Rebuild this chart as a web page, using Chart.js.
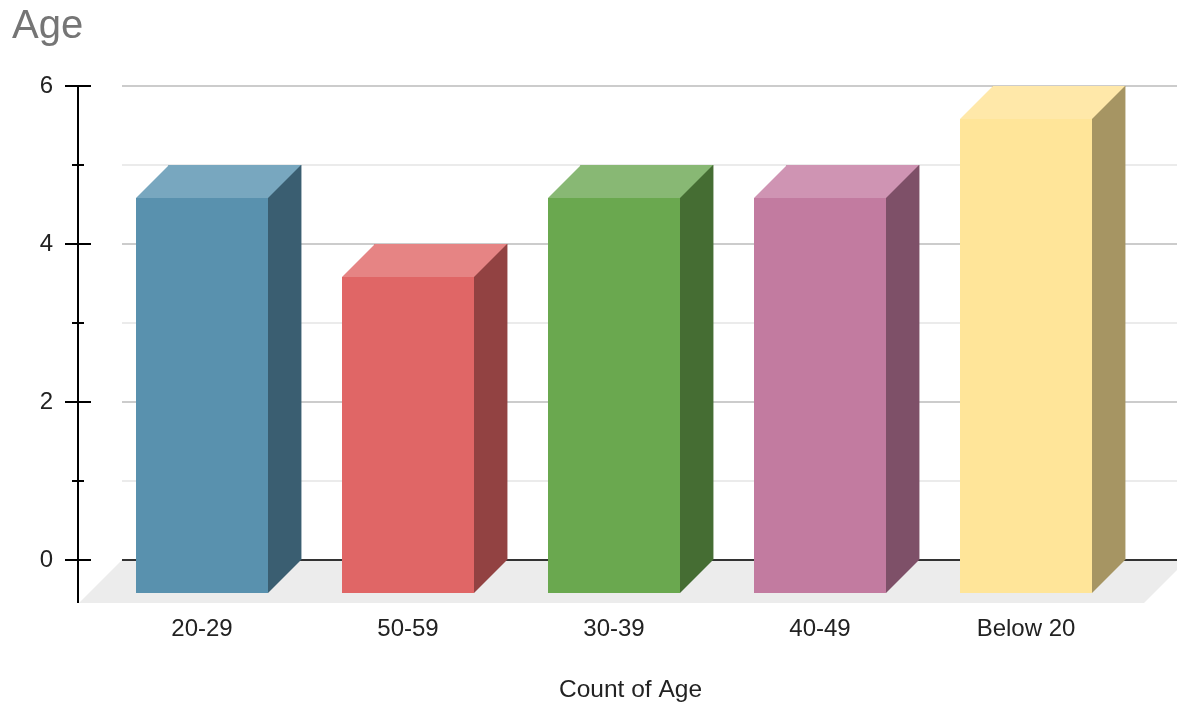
<!DOCTYPE html>
<html>
<head>
<meta charset="utf-8">
<title>Age</title>
<script src="https://cdn.jsdelivr.net/npm/chart.js@4.4.1/dist/chart.umd.min.js"></script>
<style>
  html, body { margin: 0; padding: 0; background: #ffffff; }
  canvas { display: block; }
</style>
</head>
<body>
<canvas id="ageChart" width="1177" height="707"></canvas>
<script>
// Age groups and how many people fall in each
const categories = ['20-29', '50-59', '30-39', '40-49', 'Below 20'];
const counts = [5, 4, 5, 5, 6];

// Value axis
const yMin = 0;
const yMax = 6;
const yTickValues = [0, 1, 2, 3, 4, 5, 6];
const yLabelValues = [0, 2, 4, 6];

// Box colours: front face, top face, right side
const frontColors = ['#5991ae', '#e06666', '#6aa84f', '#c27ba0', '#ffe599'];
const topColors   = ['#78a7bf', '#e68484', '#88b874', '#cf94b3', '#ffe8a9'];
const sideColors  = ['#3a5e71', '#924242', '#456d33', '#7e5068', '#a69563'];

const FONT = '"Liberation Sans", Arial, Helvetica, sans-serif';
const DEPTH = 33;        // box depth (pixels, drawn at 45 degrees)
const FLOOR_DEPTH = 43;  // depth of the grey floor plane

const boxes3d = {
  id: 'boxes3d',
  beforeDatasetsDraw(chart) {
    const { ctx, chartArea: a, scales: { y } } = chart;
    const W = chart.width;
    const gridLeft = Math.round(a.left - 10);
    const y0 = Math.round(y.getPixelForValue(0));
    ctx.save();
    // floor
    ctx.fillStyle = '#ececec';
    ctx.beginPath();
    ctx.moveTo(gridLeft, y0);
    ctx.lineTo(W + 10, y0);
    ctx.lineTo(W + 10 - FLOOR_DEPTH, y0 + FLOOR_DEPTH);
    ctx.lineTo(gridLeft - FLOOR_DEPTH, y0 + FLOOR_DEPTH);
    ctx.closePath();
    ctx.fill();
    // back-wall gridlines
    ctx.lineWidth = 2;
    yTickValues.forEach(v => {
      const py = Math.round(y.getPixelForValue(v));
      ctx.strokeStyle = v === 0 ? '#333333' : (v % 2 === 0 ? '#cccccc' : '#ebebeb');
      ctx.beginPath();
      ctx.moveTo(gridLeft, py);
      ctx.lineTo(W, py);
      ctx.stroke();
    });
    ctx.restore();
  },
  afterDatasetsDraw(chart) {
    const { ctx } = chart;
    const meta = chart.getDatasetMeta(0);
    ctx.save();
    meta.data.forEach((bar, i) => {
      const p = bar.getProps(['x', 'y', 'base', 'width'], true);
      const L = Math.round(p.x - p.width / 2);
      const R = Math.round(p.x + p.width / 2);
      const top = Math.round(p.y);
      const base = Math.round(p.base);
      const d = DEPTH;
      // right side
      ctx.fillStyle = sideColors[i];
      ctx.beginPath();
      ctx.moveTo(R, top);
      ctx.lineTo(R, base);
      ctx.lineTo(R - d, base + d);
      ctx.lineTo(R - d, top + d);
      ctx.closePath();
      ctx.fill();
      // top face
      ctx.fillStyle = topColors[i];
      ctx.beginPath();
      ctx.moveTo(L, top);
      ctx.lineTo(R, top);
      ctx.lineTo(R - d, top + d);
      ctx.lineTo(L - d, top + d);
      ctx.closePath();
      ctx.fill();
      // front face
      ctx.fillStyle = frontColors[i];
      ctx.fillRect(L - d, top + d, R - L, base - top);
    });
    ctx.restore();
  },
  afterDraw(chart) {
    const { ctx, chartArea: a, scales: { x, y } } = chart;
    const axisX = 78;
    const y0 = Math.round(y.getPixelForValue(0));
    ctx.save();
    // chart title
    ctx.fillStyle = '#757575';
    ctx.font = '40px ' + FONT;
    ctx.textAlign = 'left';
    ctx.textBaseline = 'alphabetic';
    ctx.fillText('Age', 12, 38);
    // vertical axis with major and minor ticks
    ctx.strokeStyle = '#000000';
    ctx.lineWidth = 2;
    ctx.beginPath();
    ctx.moveTo(axisX, Math.round(y.getPixelForValue(yMax)) - 1);
    ctx.lineTo(axisX, y0 + FLOOR_DEPTH);
    ctx.stroke();
    yTickValues.forEach(v => {
      const py = Math.round(y.getPixelForValue(v));
      const major = yLabelValues.includes(v);
      const half = major ? 13 : 6;
      ctx.beginPath();
      ctx.moveTo(axisX - half, py);
      ctx.lineTo(axisX + half, py);
      ctx.stroke();
    });
    // value labels
    ctx.fillStyle = '#222222';
    ctx.font = '24px ' + FONT;
    ctx.textAlign = 'right';
    ctx.textBaseline = 'middle';
    yLabelValues.forEach(v => {
      ctx.fillText(String(v), 53, y.getPixelForValue(v));
    });
    // category labels under the front faces
    ctx.textAlign = 'center';
    ctx.textBaseline = 'alphabetic';
    categories.forEach((c, i) => {
      ctx.fillText(c, x.getPixelForValue(i) - DEPTH, 636);
    });
    // axis title
    ctx.font = '24.5px ' + FONT;
    ctx.fillText('Count of Age', (a.left + a.right) / 2 - DEPTH / 2, 697);
    ctx.restore();
  }
};

new Chart(document.getElementById('ageChart'), {
  type: 'bar',
  data: {
    labels: categories,
    datasets: [{
      label: 'Count of Age',
      data: counts,
      backgroundColor: sideColors,
      borderWidth: 0,
      barPercentage: 0.645,
      categoryPercentage: 1
    }]
  },
  options: {
    responsive: false,
    animation: false,
    events: [],
    layout: { padding: { left: 132, right: 15, top: 86, bottom: 147 } },
    scales: {
      x: { display: false },
      y: { display: false, min: yMin, max: yMax }
    },
    plugins: {
      legend: { display: false },
      tooltip: { enabled: false },
      title: { display: false }
    }
  },
  plugins: [boxes3d]
});
</script>
</body>
</html>
